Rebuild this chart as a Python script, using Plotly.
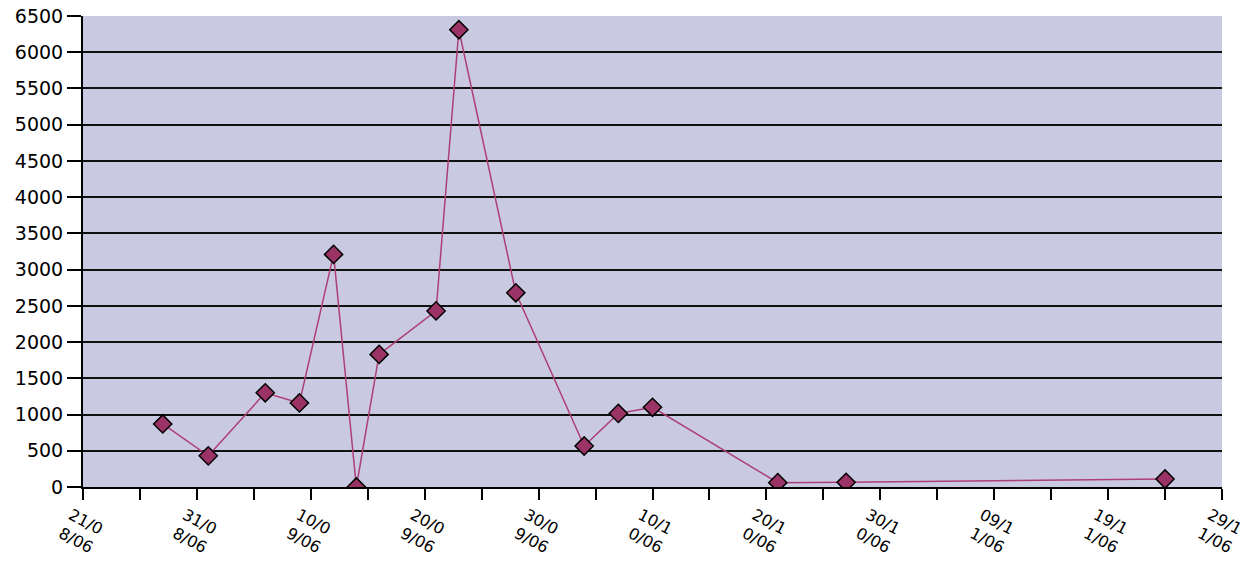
import plotly.graph_objects as go

# Sampled dates and measured values
dates = ["2006-08-28", "2006-09-01", "2006-09-06", "2006-09-09", "2006-09-12",
         "2006-09-14", "2006-09-16", "2006-09-21", "2006-09-23", "2006-09-28",
         "2006-10-04", "2006-10-07", "2006-10-10", "2006-10-21", "2006-10-27",
         "2006-11-24"]
values = [870, 430, 1300, 1160, 3210,
          0, 1830, 2430, 6310, 2680,
          566, 1015, 1100, 60, 65,
          110]

# Labelled x ticks every 10 days, wrapped the way the original axis wraps them
tick_dates = ["2006-08-21", "2006-08-31", "2006-09-10", "2006-09-20", "2006-09-30",
              "2006-10-10", "2006-10-20", "2006-10-30", "2006-11-09", "2006-11-19",
              "2006-11-29"]
tick_text = ["21/0<br>8/06", "31/0<br>8/06", "10/0<br>9/06", "20/0<br>9/06", "30/0<br>9/06",
             "10/1<br>0/06", "20/1<br>0/06", "30/1<br>0/06", "09/1<br>1/06", "19/1<br>1/06",
             "29/1<br>1/06"]

y_ticks = list(range(0, 6501, 500))

fig = go.Figure()
fig.add_trace(go.Scatter(
    x=dates, y=values, mode="lines+markers",
    line=dict(color="#ad3f78", width=1.5),
    marker=dict(symbol="diamond", size=14, color="#9c3366",
                line=dict(color="black", width=1.5)),
    showlegend=False,
))

fig.update_layout(
    width=1254, height=571,
    margin=dict(l=83, r=32, t=16, b=84),
    paper_bgcolor="white",
    plot_bgcolor="#c9c9e2",
    font=dict(family="DejaVu Sans, sans-serif", size=16, color="black"),
)
fig.update_xaxes(
    type="date",
    range=["2006-08-21", "2006-11-29"],
    automargin=False,
    tickmode="array", tickvals=tick_dates, ticktext=tick_text,
    tickangle=28,
    ticklabelshift=-12,
    tickfont=dict(size=16, family="DejaVu Sans, sans-serif"),
    ticks="outside", ticklen=11, tickwidth=2, tickcolor="black",
    minor=dict(ticks="outside", ticklen=11, tickwidth=2, tickcolor="black",
               dtick=5 * 86400000, tick0="2006-08-21", showgrid=False),
    showgrid=False, zeroline=False,
    showline=True, linecolor="black", linewidth=2,
)
fig.update_yaxes(
    range=[0, 6500],
    automargin=False,
    tickmode="array", tickvals=y_ticks,
    tickfont=dict(size=19, family="DejaVu Sans, sans-serif"),
    ticks="outside", ticklen=14, tickwidth=2, tickcolor="black",
    showgrid=True, gridcolor="#111111", gridwidth=2,
    zeroline=False,
    showline=True, linecolor="black", linewidth=2,
)

fig.write_html("out.html")
